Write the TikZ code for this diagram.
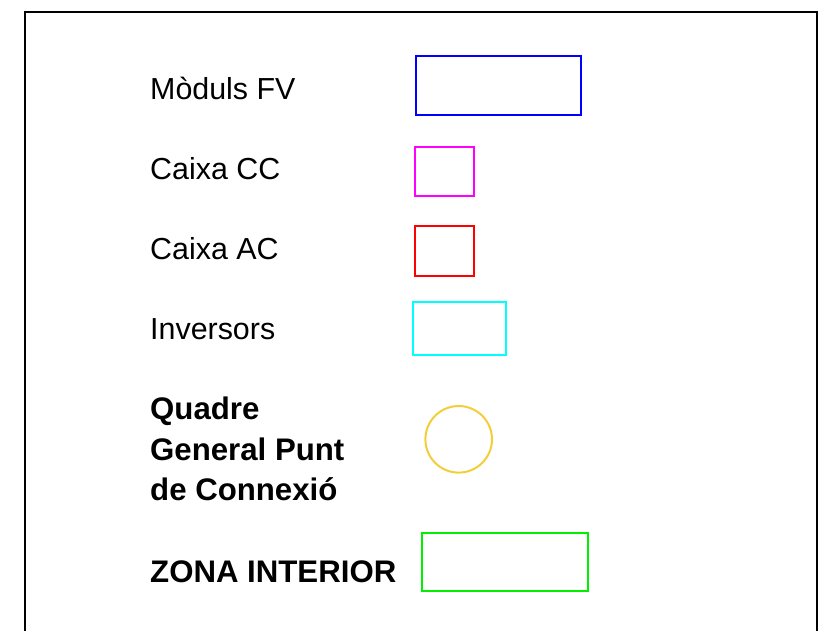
\documentclass[tikz,border=0pt]{standalone}
\usepackage{fontspec}
\setmainfont{Liberation Sans}
\definecolor{fvblue}{RGB}{0,0,255}
\definecolor{ccmag}{RGB}{255,0,255}
\definecolor{acred}{RGB}{255,0,0}
\definecolor{invcyan}{RGB}{0,255,255}
\definecolor{qgold}{RGB}{244,206,58}
\definecolor{zgreen}{RGB}{0,240,0}
\tikzset{
  lbl/.style={anchor=base west, inner sep=0pt, font=\fontsize{30.4}{36}\selectfont},
  blbl/.style={lbl, font=\fontsize{31.2}{40.5}\selectfont\bfseries},
  sym/.style={line width=2pt},
}
\begin{document}
\begin{tikzpicture}[x=1pt,y=-1pt]
\useasboundingbox (0,0) rectangle (826,630);
\clip (0,0) rectangle (826,630);
\draw[line width=2pt] (24.5,12) rectangle (816.5,660);
% labels
\node[lbl] (tfv) at (150,99.5) {Mòduls FV};
\node[lbl] (tcc) at (150,179.5) {Caixa CC};
\node[lbl] (tac) at (150,259.5) {Caixa AC};
\node[lbl] (tinv) at (150,339.5) {Inversors};
\node[blbl, align=left] (tq) at (150,500.5) {Quadre\\General Punt\\de Connexió};
\node[blbl] (tz) at (150,582.5) {ZONA INTERIOR};
% symbols
\draw[sym, fvblue] (415.7,55.7) rectangle (581,114.7);
\draw[sym, ccmag] (415.3,146.7) rectangle (474.3,195.7);
\draw[sym, acred] (415.3,226) rectangle (474.3,276);
\draw[sym, invcyan] (412.7,302.3) rectangle (505.7,354.7);
\draw[sym, qgold] (458.7,439.3) circle (33.3);
\draw[sym, zgreen] (422.3,532.7) rectangle (587.7,590.7);
\end{tikzpicture}
\end{document}
